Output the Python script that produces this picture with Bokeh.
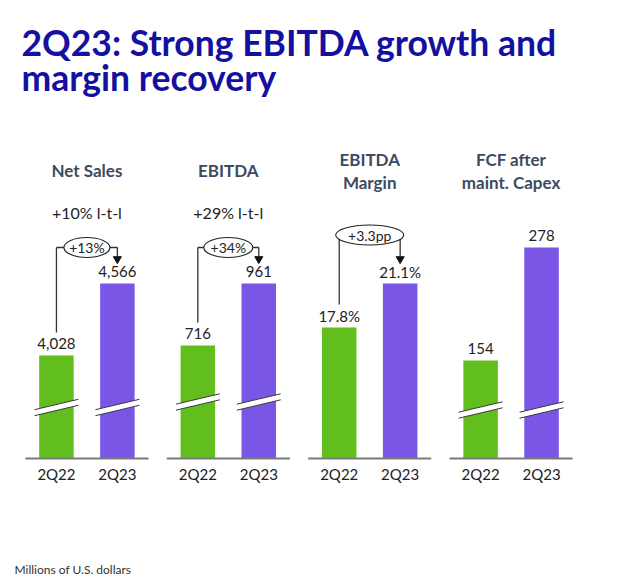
from bokeh.plotting import figure
from bokeh.models import FactorRange, Range1d, Label, ColumnDataSource
from bokeh.core.properties import value
from bokeh.embed import file_html
from bokeh.resources import INLINE

# ---------------- data ----------------
title_lines = ["2Q23: Strong EBITDA growth and", "margin recovery"]
panels = ["Net Sales", "EBITDA", "EBITDA Margin", "FCF after maint. Capex"]
panel_headers = [["Net Sales"], ["EBITDA"], ["EBITDA", "Margin"], ["FCF after", "maint. Capex"]]
periods = ["2Q22", "2Q23"]
values_2q22 = [4028, 716, 17.8, 154]
values_2q23 = [4566, 961, 21.1, 278]
labels_2q22 = ["4,028", "716", "17.8%", "154"]
labels_2q23 = ["4,566", "961", "21.1%", "278"]
growth_notes = ["+10% l-t-l", "+29% l-t-l", None, None]
change_badges = ["+13%", "+34%", "+3.3pp", None]
# broken value axes: value at the baseline and at the top of the bar area
axis_floor = [3258, 269.5, 7.975, 46.5]
axis_ceiling = [4835, 1103, 23.8, 278]
axis_broken = [True, True, False, True]
footnote = "Millions of U.S. dollars"

# ---------------- layout / style ----------------
W, H = 640, 586
BASE_Y, TOP_Y = 458, 247          # pixel rows of baseline and bar-area top
FONT_NAME = "Lato"
FONT = value(FONT_NAME)
GREEN, PURPLE = "#62be1c", "#7a56e7"
TITLE_C, HEADER_C, TEXT_C, AXIS_C = "#1410a0", "#3e4a5e", "#222222", "#7a7a7a"
BAR_W = 0.566
break_center = [407, 401.5, None, 409.5]
badge_y = [247, 247, 234.5, None]
badge_w = [46, 49, 68, None]

factors = [(pn, per) for pn in panels for per in periods]
p = figure(width=W, height=H, output_backend="svg", toolbar_location=None,
           x_range=FactorRange(factors=factors, group_padding=0.32, factor_padding=0,
                               range_padding=0.418, range_padding_units="absolute"),
           y_range=Range1d(H, 0), x_axis_location=None, y_axis_location=None,
           min_border=0, min_border_right=43)
p.title.visible = False
p.grid.visible = False
p.outline_line_color = None
p.background_fill_color = "white"
p.border_fill_color = "white"


def to_px(i, v):
    k = (BASE_Y - TOP_Y) / (axis_ceiling[i] - axis_floor[i])
    return BASE_Y - (v - axis_floor[i]) * k


for i, pn in enumerate(panels):
    k = (axis_ceiling[i] - axis_floor[i]) / (BASE_Y - TOP_Y)
    rname = f"p{i}"
    p.extra_y_ranges[rname] = Range1d(axis_floor[i] - (H - BASE_Y) * k,
                                      axis_floor[i] + BASE_Y * k)
    xs = [(pn, periods[0]), (pn, periods[1])]
    vals = [values_2q22[i], values_2q23[i]]
    src = ColumnDataSource(dict(x=xs, top=vals, bottom=[axis_floor[i]] * 2,
                                color=[GREEN, PURPLE]))
    p.vbar(x="x", top="top", bottom="bottom", width=BAR_W, fill_color="color",
           line_color=None, source=src, y_range_name=rname)
    # value labels (placed just above each bar top)
    p.text(x=xs, y=[to_px(i, v) - 12 for v in vals], text=[labels_2q22[i], labels_2q23[i]],
           text_align="center", text_baseline="middle",
           text_font=FONT, text_font_size="15px", text_color=TEXT_C)

    # baseline
    p.segment(x0=[(pn, periods[0], -0.51)], x1=[(pn, periods[1], 0.51)],
              y0=[BASE_Y], y1=[BASE_Y], line_color=AXIS_C, line_width=2)
    # category labels
    p.text(x=xs, y=[BASE_Y + 15] * 2, text=periods,
           text_align="center", text_baseline="middle", text_font=FONT,
           text_font_size="15px", text_color=TEXT_C)

    # headers
    hl = panel_headers[i]
    ys = [170] if len(hl) == 1 else [159, 182]
    p.text(x=[pn] * len(hl), y=ys, text=hl, text_align="center", text_baseline="middle",
           text_font=FONT, text_font_size="17px", text_font_style="bold",
           text_color=HEADER_C)
    if growth_notes[i]:
        p.text(x=[pn], y=[212], text=[growth_notes[i]], text_align="center",
               text_baseline="middle", text_font=FONT, text_font_size="16px",
               text_color=TEXT_C)

    # axis break marks
    if axis_broken[i]:
        c = break_center[i]
        for per in periods:
            xl, xr = (pn, per, -0.36), (pn, per, 0.36)
            p.segment(x0=[xl], x1=[xr], y0=[c + 5.2], y1=[c - 5.2],
                      line_color="white", line_width=6)
            for d in (-3, 3):
                p.segment(x0=[xl], x1=[xr], y0=[c + 5.2 + d], y1=[c - 5.2 + d],
                          line_color="#3a3a3a", line_width=1)

    # change bracket
    if change_badges[i]:
        ey = badge_y[i]
        g, u = xs
        y_left = to_px(i, values_2q22[i]) - 23
        tip = to_px(i, values_2q23[i]) - 21
        p.segment(x0=[g, g, u], x1=[g, u, u], y0=[y_left, ey, ey], y1=[ey, ey, tip - 6],
                  line_color="#333333", line_width=1.3)
        p.scatter(x=[u], y=[tip - 3.5], marker="inverted_triangle", size=8,
                  fill_color="#111111", line_color="#111111")
        p.ellipse(x=[pn], y=[ey], width=badge_w[i], height=20, width_units="screen",
                  height_units="screen", fill_color="white", line_color="#222222",
                  line_width=1.1)
        p.text(x=[pn], y=[ey], text=[change_badges[i]], text_align="center",
               text_baseline="middle", text_font=FONT, text_font_size="14px",
               text_color=TEXT_C)

# title and footnote
for t, yc in zip(title_lines, [42, 77]):
    p.add_layout(Label(x=21, x_units="screen", y=yc, text=t, text_font=FONT_NAME,
                       text_font_size="35.5px", text_font_style="bold",
                       text_color=TITLE_C, text_baseline="middle"))
p.add_layout(Label(x=14, x_units="screen", y=569, text=footnote, text_font=FONT_NAME,
                   text_font_size="12px", text_color="#333333",
                   text_baseline="middle"))

open("out.html", "w").write(file_html(p, INLINE))
